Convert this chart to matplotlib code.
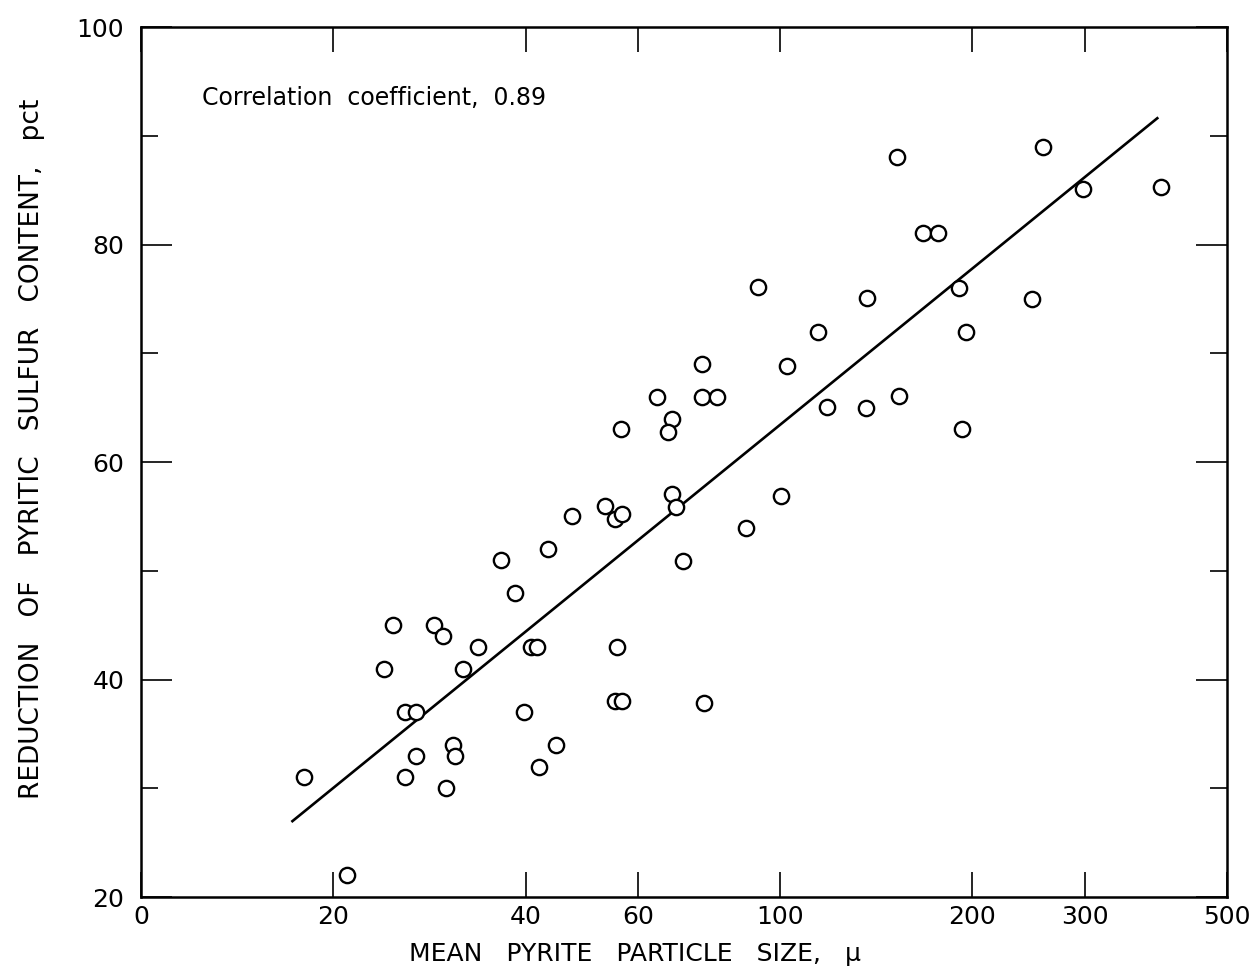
import numpy as np
import matplotlib
matplotlib.use("Agg")
import matplotlib.pyplot as plt
from matplotlib.ticker import FixedLocator, NullFormatter, NullLocator

# mean pyrite particle size (microns) and reduction of pyritic sulfur (pct)
size = [18.0, 21.0, 24.0, 24.8, 25.9, 26.9, 25.9, 26.9, 28.8, 29.7,
        30.0, 30.8, 31.0, 31.9, 33.7, 36.6, 38.5, 39.8, 40.8, 41.7,
        42.0, 43.4, 44.7, 47.3, 53.3, 55.2, 56.6, 56.4, 55.5, 55.2,
        56.6, 64.2, 67.8, 66.8, 75.5, 75.5, 79.7, 67.8, 68.8, 70.5,
        76.1, 88.5, 92.4, 100.4, 102.5, 114.7, 118.4, 136.8, 136.2, 152.4,
        153.5, 167.3, 176.6, 191.0, 195.3, 192.5, 247.6, 258.5, 298.5, 395.0]
reduction = [31.0, 22.0, 41.0, 45.0, 37.0, 37.0, 31.0, 33.0, 45.0, 44.0,
             30.0, 34.0, 33.0, 41.0, 43.0, 51.0, 48.0, 37.0, 43.0, 43.0,
             32.0, 52.0, 34.0, 55.0, 56.0, 54.8, 55.2, 63.0, 43.0, 38.0,
             38.0, 66.0, 64.0, 62.8, 69.0, 66.0, 66.0, 57.1, 55.9, 50.9,
             37.8, 53.9, 76.1, 56.9, 68.8, 72.0, 65.1, 75.1, 65.0, 88.1,
             66.1, 81.1, 81.1, 76.0, 72.0, 63.0, 75.0, 89.0, 85.1, 85.3]

# regression line end points
fit_x = [17.2, 391.0]
fit_y = [26.9, 91.7]

xticks = [10, 20, 40, 60, 100, 200, 300, 500]
xticklabels = ["0", "20", "40", "60", "100", "200", "300", "500"]
yticks = [20, 40, 60, 80, 100]

fig = plt.figure(figsize=(12.58, 9.69), dpi=100)
ax = fig.add_axes([0.112, 0.0743, 0.863, 0.8977])

ax.plot(fit_x, fit_y, color="black", lw=1.9, solid_capstyle="butt")
ax.plot(size, reduction, "o", ms=11, mfc="white", mec="black", mew=1.7)

ax.set_xscale("log")
ax.set_xlim(10, 500)
ax.set_ylim(20, 100)

ax.xaxis.set_major_locator(FixedLocator(xticks))
ax.set_xticklabels(xticklabels)
ax.xaxis.set_minor_locator(NullLocator())
ax.xaxis.set_minor_formatter(NullFormatter())
ax.set_yticks(yticks)
ax.set_yticks(np.arange(30, 100, 20), minor=True)

for s in ax.spines.values():
    s.set_linewidth(1.8)

ax.tick_params(axis="x", which="major", direction="in", length=18, width=1.2,
               top=True, bottom=True, labelsize=18, pad=6)
ax.tick_params(axis="y", which="major", direction="in", length=22, width=1.2,
               left=True, right=True, labelsize=18, pad=12)
ax.tick_params(axis="y", which="minor", direction="in", length=12, width=1.2,
               left=True, right=True)

ax.set_xlabel("MEAN   PYRITE   PARTICLE   SIZE,   µ", fontsize=18, labelpad=6)
ax.xaxis.set_label_coords(0.455, -0.052)
ax.set_ylabel("REDUCTION   OF   PYRITIC   SULFUR   CONTENT,   pct", fontsize=19,
              labelpad=22)
ax.yaxis.set_label_coords(-0.088, 0.515)

ax.text(0.056, 0.91, "Correlation  coefficient,  0.89", transform=ax.transAxes,
        fontsize=17)

fig.savefig("out.png", dpi=100)
